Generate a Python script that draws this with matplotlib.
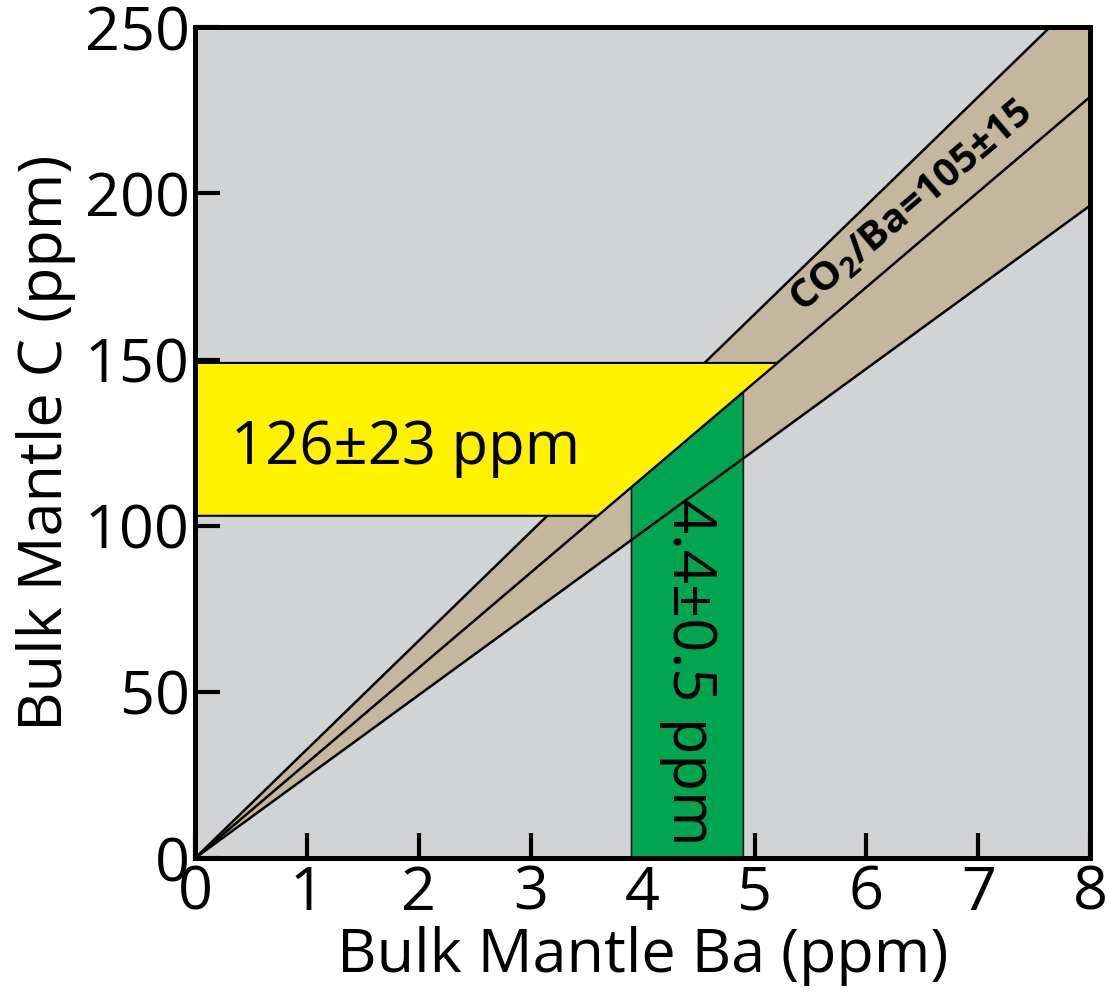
import matplotlib.pyplot as plt
import numpy as np

# CO2/Ba mass ratio band, converted to C/Ba (12/44)
co2_ba = [90, 105, 120]          # low, best, high
c_yield = 12.0 / 44.0
ba_range = [0, 8]

# bulk mantle C estimate (ppm) and Ba estimate (ppm)
c_mid, c_err = 126, 23
ba_mid, ba_err = 4.4, 0.5

xticks = [0, 1, 2, 3, 4, 5, 6, 7, 8]
yticks = [0, 50, 100, 150, 200, 250]

plt.rcParams['font.family'] = ['Open Sans', 'DejaVu Sans']
plt.rcParams['mathtext.default'] = 'regular'

fig = plt.figure(figsize=(11.09, 10.02), dpi=100)
ax = fig.add_axes([0.176, 0.1437, 0.807, 0.829])
ax.set_facecolor('#d1d3d4')
ax.set_xlim(0, 8)
ax.set_ylim(0, 250)

slopes = [r * c_yield for r in co2_ba]
x = np.array(ba_range, dtype=float)

# tan band
ax.fill_between(x, slopes[0] * x, slopes[2] * x, color='#c5b79d', zorder=1, lw=0)

# green Ba band, capped by best-fit line
g0, g1 = ba_mid - ba_err, ba_mid + ba_err
ax.fill([g0, g1, g1, g0], [0, 0, slopes[1] * g1, slopes[1] * g0],
        facecolor='#00a551', edgecolor='#1a1a1a', lw=1.2, zorder=2)

# band lines
for s in slopes:
    ax.plot(x, s * x, color='black', lw=1.8, zorder=3)

# yellow C band, cut by best-fit line
y0, y1 = c_mid - c_err, c_mid + c_err
ax.fill([0, y0 / slopes[1], y1 / slopes[1], 0], [y0, y0, y1, y1],
        facecolor='#fff200', edgecolor='black', lw=1.5, zorder=4)

ax.text(1.88, 123.5, '126\u00b123 ppm', fontsize=43, ha='center', va='center', zorder=5)
ax.text(ba_mid + 0.01, 56, '4.4\u00b10.5 ppm', fontsize=43, rotation=270,
        ha='center', va='center', zorder=5)

ax.text(6.4, 196, 'CO$_2$/Ba=105\u00b115', fontsize=29,
        fontweight='bold', rotation=np.degrees(np.arctan(slopes[1])),
        transform_rotates_text=True, rotation_mode='anchor',
        ha='center', va='center', zorder=5)

ax.set_xticks(xticks)
ax.set_yticks(yticks)
ax.tick_params(direction='in', length=18, width=3, labelsize=44, pad=4)
for sp in ax.spines.values():
    sp.set_linewidth(3.6)
    sp.set_zorder(10)

ax.set_xlabel('Bulk Mantle Ba (ppm)', fontsize=44, labelpad=2)
ax.set_ylabel('Bulk Mantle C (ppm)', fontsize=44, labelpad=6)

plt.savefig('out.png', dpi=100)
